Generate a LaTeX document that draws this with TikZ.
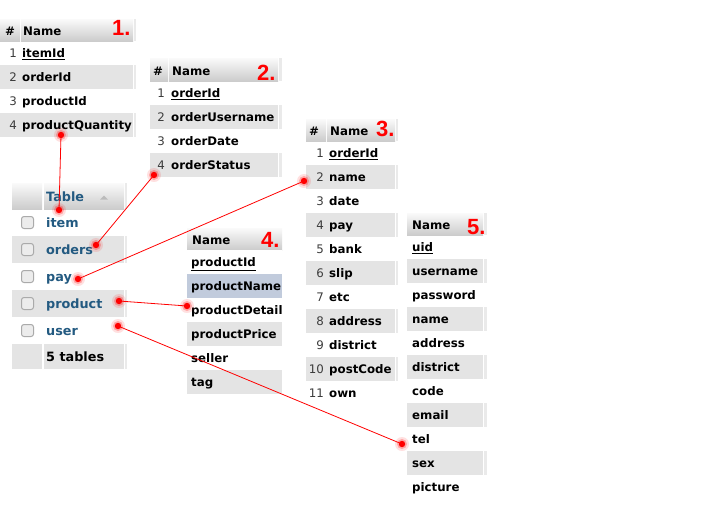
\documentclass[tikz,border=0pt]{standalone}
\usepackage{fontspec}
\setmainfont{DejaVu Sans}
\newfontfamily\redfont{Liberation Sans}
\definecolor{rowgrey}{RGB}{228,228,228}
\definecolor{hdrtop}{RGB}{250,250,250}
\definecolor{hdrbot}{RGB}{204,204,204}
\definecolor{sliver}{RGB}{234,234,234}
\definecolor{linkblue}{RGB}{35,90,129}
\definecolor{selblue}{RGB}{193,203,220}
\definecolor{numgrey}{RGB}{60,60,60}
\definecolor{redmark}{RGB}{255,0,0}
\definecolor{boxfill}{RGB}{236,236,236}
\definecolor{boxline}{RGB}{170,170,170}
\tikzset{
  hdr/.style={top color=hdrtop, bottom color=hdrbot, draw=none},
  fld/.style={font=\fontsize{11.8}{14}\selectfont\bfseries, text=black, inner sep=0, anchor=base west},
  num/.style={font=\fontsize{11.8}{14}\selectfont, text=numgrey, inner sep=0, anchor=base east},
  hsh/.style={font=\fontsize{11.8}{14}\selectfont\bfseries, text=black, inner sep=0, anchor=base},
  tbl/.style={font=\fontsize{12.8}{15}\selectfont\bfseries, text=linkblue, inner sep=0, anchor=base west},
  redtag/.style={font=\redfont\bfseries\fontsize{22}{22}\selectfont, text=redmark, inner sep=0, anchor=base west},
  link/.style={draw=redmark, line width=0.8},
  chk/.style={fill=boxfill, draw=boxline, line width=1, rounded corners=2.5},
}
\begin{document}
\begin{tikzpicture}[x=1pt,y=-1pt]
\useasboundingbox (0,0) rectangle (720,512);
\fill[white] (0,0) rectangle (720,512);

% ---------- table 1 ----------
\shade[hdr] (0,19) rectangle (20,41);
\shade[hdr] (21,19) rectangle (133,41);
\fill[sliver] (134,19) rectangle (136,41);
\node[hsh] (t1hash) at (10,35.5) {\#};
\node[fld] (t1name) at (23,35.5) {Name};
\foreach \i/\nm in {1/{\underline{itemId}},2/orderId,3/productId,4/productQuantity}{
  \pgfmathsetmacro\yt{41+24*(\i-1)}
  \ifodd\i\else
    \fill[rowgrey] (0,\yt) rectangle (133,\yt+24);
    \fill[sliver] (134,\yt) rectangle (136,\yt+24);
  \fi
  \node[num] (t1n\i) at (17,\yt+16.5) {\i};
  \node[fld] (t1f\i) at (22,\yt+16.5) {\nm};
}
\node[redtag] (tag1) at (112,35.5) {1.};

% ---------- table 2 ----------
\shade[hdr] (150,58) rectangle (168,81);
\shade[hdr] (169,58) rectangle (278,81);
\fill[sliver] (279,58) rectangle (282,81);
\node[hsh] (t2hash) at (158,75) {\#};
\node[fld] (t2name) at (172,75) {Name};
\foreach \i/\nm in {1/{\underline{orderId}},2/orderUsername,3/orderDate,4/orderStatus}{
  \pgfmathsetmacro\yt{81+24*(\i-1)}
  \ifodd\i\else
    \fill[rowgrey] (150,\yt) rectangle (278,\yt+24);
    \fill[sliver] (279,\yt) rectangle (282,\yt+24);
  \fi
  \node[num] (t2n\i) at (165,\yt+16.5) {\i};
  \node[fld] (t2f\i) at (171,\yt+16.5) {\nm};
}
\node[redtag] (tag2) at (257,80.5) {2.};

% ---------- table 3 ----------
\shade[hdr] (306,119) rectangle (326,141);
\shade[hdr] (327,119) rectangle (395,141);
\fill[sliver] (396,119) rectangle (398,141);
\node[hsh] (t3hash) at (314,135.5) {\#};
\node[fld] (t3name) at (330,135.5) {Name};
\foreach \i/\nm in {1/{\underline{orderId}},2/name,3/date,4/pay,5/bank,6/slip,7/etc,8/address,9/district,10/postCode,11/own}{
  \pgfmathsetmacro\yt{141+24*(\i-1)}
  \ifodd\i\else
    \fill[rowgrey] (306,\yt) rectangle (395,\yt+24);
    \fill[sliver] (396,\yt) rectangle (398,\yt+24);
  \fi
  \node[num] (t3n\i) at (324,\yt+16.5) {\i};
  \node[fld] (t3f\i) at (329,\yt+16.5) {\nm};
}
\node[redtag] (tag3) at (376,136) {3.};

% ---------- table 4 ----------
\shade[hdr] (187,228) rectangle (282,250);
\node[fld] (t4name) at (192,244.5) {Name};
\foreach \i/\nm/\cl in {1/{\underline{productId}}/white,2/productName/selblue,3/productDetail/white,4/productPrice/rowgrey,5/seller/white,6/tag/rowgrey}{
  \pgfmathsetmacro\yt{250+24*(\i-1)}
  \fill[\cl] (187,\yt) rectangle (282,\yt+24);
  \node[fld] (t4f\i) at (191,\yt+16.5) {\nm};
}
\node[redtag] (tag4) at (261,247) {4.};

% ---------- table 5 ----------
\shade[hdr] (407,213) rectangle (483,235);
\fill[sliver] (484,213) rectangle (487,235);
\node[fld] (t5name) at (412,229.5) {Name};
\foreach \i/\nm in {1/{\underline{uid}},2/username,3/password,4/name,5/address,6/district,7/code,8/email,9/tel,10/sex,11/picture}{
  \pgfmathsetmacro\yt{235+24*(\i-1)}
  \ifodd\i\else
    \fill[rowgrey] (407,\yt) rectangle (483,\yt+24);
    \fill[sliver] (484,\yt) rectangle (487,\yt+24);
  \fi
  \node[fld] (t5f\i) at (412,\yt+16.5) {\nm};
}
\node[redtag] (tag5) at (467,234) {5.};

% ---------- table list ----------
\shade[hdr] (12,183) rectangle (42,209);
\shade[hdr] (44,183) rectangle (124,209);
\fill[sliver] (125,183) rectangle (127,209);
\node[tbl] (lhead) at (46,201) {Table};
\fill[boxline!80] (100,199.5) -- (108,199.5) -- (104,195.5) -- cycle;
\foreach \i/\nm in {1/item,2/orders,3/pay,4/product,5/user}{
  \pgfmathsetmacro\yt{209+27*(\i-1)}
  \ifodd\i\else
    \fill[rowgrey] (12,\yt) rectangle (124,\yt+27);
    \fill[sliver] (125,\yt) rectangle (127,\yt+27);
  \fi
  \draw[chk] (21.5,\yt+7.5) rectangle (33.5,\yt+19.5);
  \node[tbl] (l\i) at (46,\yt+18.5) {\nm};
}
\fill[rowgrey] (12,344) rectangle (42,369);
\fill[rowgrey] (44,344) rectangle (124,369);
\fill[sliver] (125,344) rectangle (127,369);
\node[tbl, text=black] (lfoot) at (46,361) {5 tables};

% ---------- connectors ----------
\coordinate (d1a) at (61,135);
\coordinate (d1b) at (59,210);
\coordinate (d2a) at (154,175);
\coordinate (d2b) at (96,245);
\coordinate (d3a) at (304,181);
\coordinate (d3b) at (78,279);
\coordinate (d4a) at (119,301);
\coordinate (d4b) at (187,306);
\coordinate (d5a) at (118,326);
\coordinate (d5b) at (402,444);
\draw[link] (d1a) -- (d1b);
\draw[link] (d2a) -- (d2b);
\draw[link] (d3a) -- (d3b);
\draw[link] (d4a) -- (d4b);
\draw[link] (d5a) -- (d5b);
\foreach \d in {d1a,d1b,d2a,d2b,d3a,d3b,d4a,d4b,d5a,d5b}{
  \fill[redmark, opacity=0.12] (\d) circle (7);
  \fill[redmark, opacity=0.25] (\d) circle (5);
  \fill[redmark] (\d) circle (3.2);
}
\end{tikzpicture}
\end{document}
